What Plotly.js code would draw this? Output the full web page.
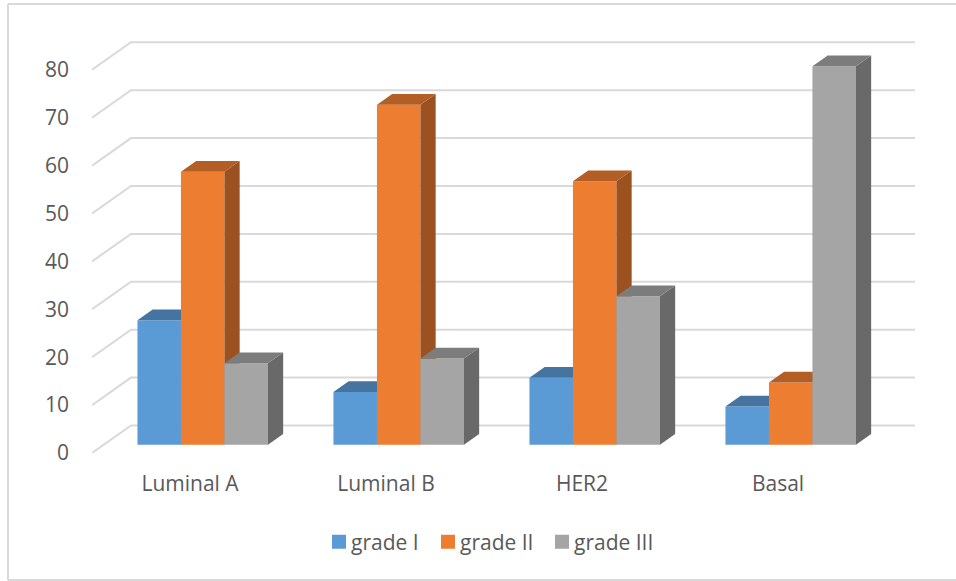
<!DOCTYPE html>
<html>
<head>
<meta charset="utf-8">
<script src="https://cdn.plot.ly/plotly-3.0.1.min.js"></script>
<style>html,body{margin:0;padding:0;background:#fff;overflow:hidden}#chart{width:956px;height:581px}</style>
</head>
<body>
<div id="chart"></div>
<script>
// Tumour grade share by molecular subtype
const categories = ['Luminal A', 'Luminal B', 'HER2', 'Basal'];
const gradeI = [26, 11, 14, 8];
const gradeII = [57, 71, 55, 13];
const gradeIII = [17, 18, 31, 79];
const seriesNames = ['grade I', 'grade II', 'grade III'];
const yTicks = [0, 10, 20, 30, 40, 50, 60, 70, 80];

const frontColors = ['#5b9bd5', '#ed7d31', '#a5a5a5'];
const topColors = ['#44749f', '#b25e25', '#7c7c7c'];
const sideColors = ['#3b658a', '#9c5220', '#696969'];

// Oblique projection: depth moves a point right and up on the axes.
const pxPerValue = 4.79, pxPerCategory = 196;
const plot = {left: 92, right: 915, top: 31, bottom: 453};
const xMax = (plot.right - plot.left) / pxPerCategory;
const yMax = (plot.bottom - plot.top) / pxPerValue;
const floorDx = 39 / pxPerCategory, floorDy = 27.5 / pxPerValue;
const barNear = 0.30, barFar = 0.69;
const barWidth = 43.5 / pxPerCategory;
const barNudge = 1 / pxPerCategory;

const base = barNear * floorDy;
const shiftX = barNear * floorDx + barNudge;
const depthX = (barFar - barNear) * floorDx;
const depthY = (barFar - barNear) * floorDy;

function axisPair(n) {
  return {
    ['xaxis' + n]: {overlaying: 'x', range: [0, xMax], visible: false, fixedrange: true},
    ['yaxis' + n]: {overlaying: 'y', range: [0, yMax], visible: false, fixedrange: true}
  };
}

// Back wall and floor guide lines, one bent line for every tick value
const gridX = [], gridY = [];
yTicks.forEach(v => {
  gridX.push(0, floorDx, xMax, null);
  gridY.push(v, v + floorDy, v + floorDy, null);
});

const traces = [{
  x: gridX, y: gridY, type: 'scatter', mode: 'lines', cliponaxis: false,
  line: {color: '#d9d9d9', width: 2}, showlegend: false, hoverinfo: 'skip'
}];

const layoutAxes = {};
[gradeI, gradeII, gradeIII].forEach((values, s) => {
  // Each series sits on its own overlay so later series paint over earlier ones
  const n = s + 2;
  Object.assign(layoutAxes, axisPair(n));
  const xa = 'x' + n, ya = 'y' + n;
  const topX = [], topY = [], sideX = [], sideY = [];
  const centers = values.map((_, i) => i + 0.5 + shiftX + (s - 1) * barWidth);
  values.forEach((v, i) => {
    const l = centers[i] - barWidth / 2, r = centers[i] + barWidth / 2, t = base + v;
    topX.push(l, r, r + depthX, l + depthX, l, null);
    topY.push(t, t, t + depthY, t + depthY, t, null);
    sideX.push(r, r + depthX, r + depthX, r, r, null);
    sideY.push(base, base + depthY, t + depthY, t, base, null);
  });
  traces.push({
    x: sideX, y: sideY, xaxis: xa, yaxis: ya, type: 'scatter', mode: 'lines', fill: 'toself',
    fillcolor: sideColors[s], line: {width: 0}, showlegend: false, hoverinfo: 'skip'
  }, {
    x: topX, y: topY, xaxis: xa, yaxis: ya, type: 'scatter', mode: 'lines', fill: 'toself',
    fillcolor: topColors[s], line: {width: 0}, showlegend: false, hoverinfo: 'skip'
  }, {
    x: centers, y: values, base: base, width: barWidth, xaxis: xa, yaxis: ya, type: 'bar',
    name: seriesNames[s], marker: {color: frontColors[s], line: {width: 0}},
    customdata: categories, hovertemplate: '%{customdata}: %{y}<extra>' + seriesNames[s] + '</extra>'
  });
});

const textColor = '#595959';
const fontFamily = '"Open Sans", sans-serif';
const fontSize = 21;
const plotW = plot.right - plot.left, plotH = plot.bottom - plot.top;
const paperX = px => (px - plot.left) / plotW;
const paperY = px => (plot.bottom - px) / plotH;
const frame = (x0, y0, x1, y1) => ({
  type: 'line', xref: 'paper', yref: 'paper', layer: 'below',
  x0: paperX(x0), x1: paperX(x1), y0: paperY(y0), y1: paperY(y1),
  line: {color: '#d9d9d9', width: 2}
});

const layout = Object.assign({
  width: 956, height: 581, autosize: false,
  margin: {l: plot.left, r: 956 - plot.right, t: plot.top, b: 581 - plot.bottom, pad: 0},
  paper_bgcolor: '#ffffff', plot_bgcolor: 'rgba(0,0,0,0)',
  font: {family: fontFamily, color: textColor, size: fontSize},
  barmode: 'overlay', hovermode: 'closest',
  xaxis: {
    range: [0, xMax], tickmode: 'array', tickvals: categories.map((_, i) => i + 0.5), ticktext: categories,
    showgrid: false, zeroline: false, showline: false, ticks: '', ticklabelstandoff: 16, fixedrange: true,
    tickfont: {family: fontFamily, color: textColor, size: fontSize}
  },
  yaxis: {
    range: [0, yMax], tickmode: 'array', tickvals: yTicks, ticktext: yTicks.map(String),
    showgrid: false, zeroline: false, showline: false, ticks: '', ticklabelstandoff: 22, fixedrange: true,
    tickfont: {family: fontFamily, color: textColor, size: fontSize}
  },
  legend: {
    orientation: 'h', xref: 'paper', yref: 'paper', xanchor: 'left', yanchor: 'middle',
    x: paperX(310), y: paperY(542), font: {family: fontFamily, color: textColor, size: fontSize},
    bgcolor: 'rgba(0,0,0,0)', itemclick: false, itemdoubleclick: false
  },
  shapes: [frame(8, 4, 956, 4), frame(8, 4, 8, 580), frame(8, 580, 956, 580)]
}, layoutAxes);

Plotly.newPlot('chart', traces, layout, {displayModeBar: false, responsive: false}).then(() => {
  // Tighten the legend: larger swatches set close to their labels
  const labelLeft = [351, 460, 574];
  document.querySelectorAll('#chart .legend .traces').forEach((item, i) => {
    const label = item.querySelector('.legendtext');
    const delta = labelLeft[i] - label.getBoundingClientRect().left;
    const m = /translate\(([-\d.]+)[, ]+([-\d.]+)\)/.exec(item.getAttribute('transform'));
    item.setAttribute('transform', 'translate(' + (parseFloat(m[1]) + delta) + ',' + m[2] + ')');
    item.querySelector('.legendsymbols').setAttribute('transform', 'translate(8,0)');
    item.querySelectorAll('.legendpoints path').forEach(p => p.setAttribute('d', 'M7,7H-7V-7H7Z'));
  });
});
</script>
</body>
</html>
